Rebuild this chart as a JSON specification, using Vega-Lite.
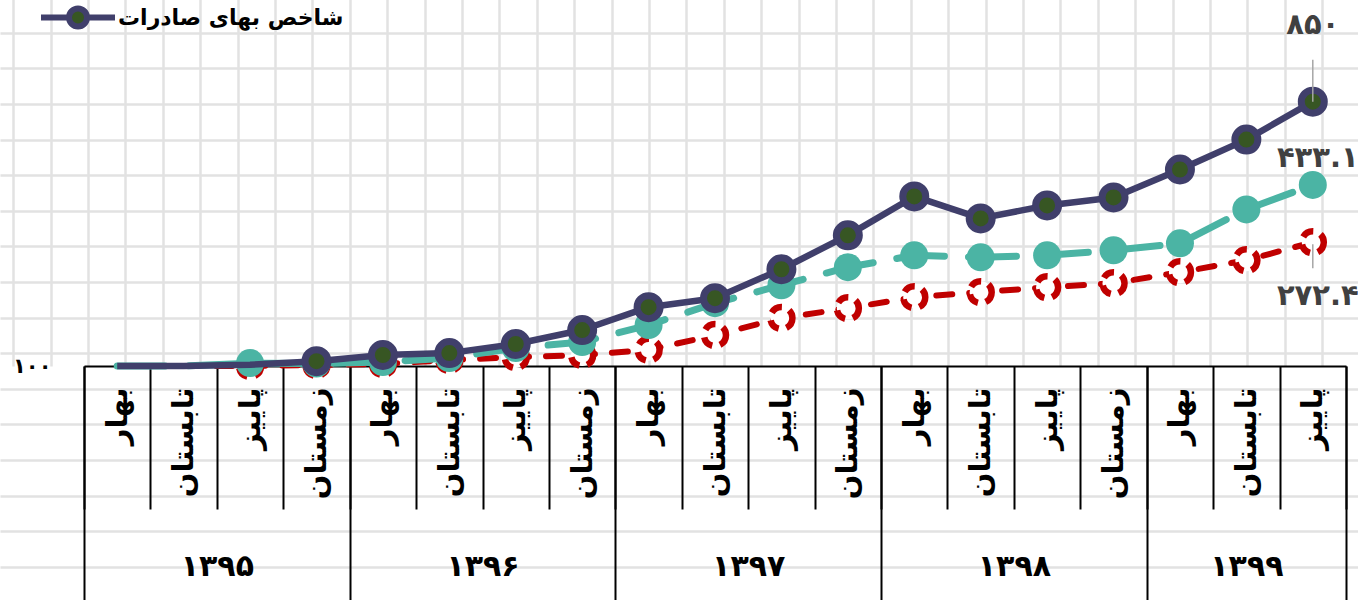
{
"$schema": "https://vega.github.io/schema/vega-lite/v6.json",
"width": 1262, "height": 366,
"autosize": {"type": "none"},
"padding": {"left": 84, "top": 0, "right": 12, "bottom": 234},
"background": "white",
"config": {"view": {"stroke": null}, "font": "DejaVu Sans"},
"data": {"values": [
{"q":"بهار ۱۳۹۵","series":"شاخص بهای صادرات","value":100},
{"q":"تابستان ۱۳۹۵","series":"شاخص بهای صادرات","value":100},
{"q":"پاییز ۱۳۹۵","series":"شاخص بهای صادرات","value":101},
{"q":"زمستان ۱۳۹۵","series":"شاخص بهای صادرات","value":104},
{"q":"بهار ۱۳۹۶","series":"شاخص بهای صادرات","value":109.3},
{"q":"تابستان ۱۳۹۶","series":"شاخص بهای صادرات","value":111},
{"q":"پاییز ۱۳۹۶","series":"شاخص بهای صادرات","value":119.5},
{"q":"زمستان ۱۳۹۶","series":"شاخص بهای صادرات","value":133.8},
{"q":"بهار ۱۳۹۷","series":"شاخص بهای صادرات","value":161},
{"q":"تابستان ۱۳۹۷","series":"شاخص بهای صادرات","value":173.2},
{"q":"پاییز ۱۳۹۷","series":"شاخص بهای صادرات","value":218.9},
{"q":"زمستان ۱۳۹۷","series":"شاخص بهای صادرات","value":288},
{"q":"بهار ۱۳۹۸","series":"شاخص بهای صادرات","value":394.6},
{"q":"تابستان ۱۳۹۸","series":"شاخص بهای صادرات","value":330.4},
{"q":"پاییز ۱۳۹۸","series":"شاخص بهای صادرات","value":367},
{"q":"زمستان ۱۳۹۸","series":"شاخص بهای صادرات","value":391.4},
{"q":"بهار ۱۳۹۹","series":"شاخص بهای صادرات","value":490.8},
{"q":"تابستان ۱۳۹۹","series":"شاخص بهای صادرات","value":625.3},
{"q":"پاییز ۱۳۹۹","series":"شاخص بهای صادرات","value":850,"label":"۸۵۰"},
{"q":"بهار ۱۳۹۵","series":"سری دوم","value":100},
{"q":"تابستان ۱۳۹۵","series":"سری دوم","value":100},
{"q":"پاییز ۱۳۹۵","series":"سری دوم","value":102.4},
{"q":"زمستان ۱۳۹۵","series":"سری دوم","value":102},
{"q":"بهار ۱۳۹۶","series":"سری دوم","value":103.3},
{"q":"تابستان ۱۳۹۶","series":"سری دوم","value":106.7},
{"q":"پاییز ۱۳۹۶","series":"سری دوم","value":115.7},
{"q":"زمستان ۱۳۹۶","series":"سری دوم","value":121.4},
{"q":"بهار ۱۳۹۷","series":"سری دوم","value":139.3},
{"q":"تابستان ۱۳۹۷","series":"سری دوم","value":166.3},
{"q":"پاییز ۱۳۹۷","series":"سری دوم","value":192.3},
{"q":"زمستان ۱۳۹۷","series":"سری دوم","value":222.5},
{"q":"بهار ۱۳۹۸","series":"سری دوم","value":245},
{"q":"تابستان ۱۳۹۸","series":"سری دوم","value":241},
{"q":"پاییز ۱۳۹۸","series":"سری دوم","value":245},
{"q":"زمستان ۱۳۹۸","series":"سری دوم","value":255.2},
{"q":"بهار ۱۳۹۹","series":"سری دوم","value":270},
{"q":"تابستان ۱۳۹۹","series":"سری دوم","value":355.3},
{"q":"پاییز ۱۳۹۹","series":"سری دوم","value":433.1,"label":"۴۳۳.۱"},
{"q":"بهار ۱۳۹۵","series":"سری سوم","value":100},
{"q":"تابستان ۱۳۹۵","series":"سری سوم","value":100},
{"q":"پاییز ۱۳۹۵","series":"سری سوم","value":100},
{"q":"زمستان ۱۳۹۵","series":"سری سوم","value":100.8},
{"q":"بهار ۱۳۹۶","series":"سری سوم","value":101.6},
{"q":"تابستان ۱۳۹۶","series":"سری سوم","value":105},
{"q":"پاییز ۱۳۹۶","series":"سری سوم","value":107.5},
{"q":"زمستان ۱۳۹۶","series":"سری سوم","value":109.3},
{"q":"بهار ۱۳۹۷","series":"سری سوم","value":114},
{"q":"تابستان ۱۳۹۷","series":"سری سوم","value":128.4},
{"q":"پاییز ۱۳۹۷","series":"سری سوم","value":147.4},
{"q":"زمستان ۱۳۹۷","series":"سری سوم","value":159.7},
{"q":"بهار ۱۳۹۸","series":"سری سوم","value":174.6},
{"q":"تابستان ۱۳۹۸","series":"سری سوم","value":181.8},
{"q":"پاییز ۱۳۹۸","series":"سری سوم","value":189.2},
{"q":"زمستان ۱۳۹۸","series":"سری سوم","value":195.5},
{"q":"بهار ۱۳۹۹","series":"سری سوم","value":213.6},
{"q":"تابستان ۱۳۹۹","series":"سری سوم","value":235.4},
{"q":"پاییز ۱۳۹۹","series":"سری سوم","value":272.4,"label":"۲۷۲.۴"}
]},
"layer": [
{
 "mark": {"type": "point", "opacity": 0},
 "encoding": {
  "x": {"field": "value", "type": "quantitative",
        "scale": {"domain": [-0.3556, 35.955], "range": [-84, 1274], "zero": false, "nice": false},
        "axis": {"orient": "bottom", "values": [0,1,2,3,4,5,6,7,8,9,10,11,12,13,14,15,16,17,18,19,20,21,22,23,24,25,26,27,28,29,30,31,32,33,34,35],
                 "grid": true, "gridColor": "#e2e2e2", "gridWidth": 2.5, "labels": false, "ticks": false, "domain": false, "title": null}},
  "y": {"field": "value", "type": "quantitative",
        "scale": {"domain": [-0.9185, 15.935], "range": [0, 600], "zero": false, "nice": false},
        "axis": {"orient": "left", "values": [0,1,2,3,4,5,6,7,8,9,10,11,12,13,14,15],
                 "grid": true, "gridColor": "#e2e2e2", "gridWidth": 2.5, "labels": false, "ticks": false, "domain": false, "title": null}}
 }
},
{
 "encoding": {
  "x": {"field": "q", "type": "ordinal", "sort": null, "bandPosition": 0.5,
        "scale": {"type": "band", "paddingInner": 0, "paddingOuter": 0},
        "axis": {"orient": "bottom", "title": null, "grid": false, "domain": true, "domainColor": "black", "domainWidth": 2,
                 "ticks": true, "tickColor": "black", "tickWidth": 2, "tickSize": 143, "tickBand": "extent",
                 "labelExpr": "datum.value ? split(datum.value, ' ')[0] : ''",
                 "labelAngle": 270, "labelAlign": "right", "labelBaseline": "middle", "labelPadding": -122,
                 "labelFontSize": 29, "labelFontWeight": "bold", "labelColor": "black", "labelOverlap": false, "labelBound": false, "labelFont": "DejaVu Sans"}},
  "y": {"field": "value", "type": "quantitative",
        "scale": {"type": "log", "domain": [100, 1936], "nice": false},
        "axis": {"orient": "left", "values": [100], "labelExpr": "'۱۰۰'", "ticks": false, "domain": false, "grid": false,
                 "labelPadding": 33, "labelFontSize": 21, "labelFontWeight": "bold", "labelColor": "black", "title": null, "labelFont": "DejaVu Sans"}}
 },
 "layer": [
  {"transform": [{"filter": "datum.series == 'سری سوم'"}],
   "mark": {"type": "line", "color": "#c00000", "strokeWidth": 6, "strokeDash": [16, 17], "strokeCap": "round"}},
  {"transform": [{"filter": "datum.series == 'سری سوم' && datum.q != 'بهار ۱۳۹۵' && datum.q != 'تابستان ۱۳۹۵'"}],
   "mark": {"type": "point", "filled": true, "fill": "white", "stroke": "#c00000", "strokeWidth": 6.5, "strokeDash": [12, 8], "size": 484, "opacity": 1}},
  {"transform": [{"filter": "datum.series == 'سری دوم'"}],
   "mark": {"type": "line", "color": "#4bb4a4", "strokeWidth": 7, "strokeDash": [48, 24], "strokeCap": "round"}},
  {"transform": [{"filter": "datum.series == 'سری دوم' && datum.q != 'بهار ۱۳۹۵' && datum.q != 'تابستان ۱۳۹۵'"}],
   "mark": {"type": "point", "filled": true, "fill": "#4bb4a4", "strokeWidth": 0, "size": 784, "opacity": 1}},
  {"transform": [{"filter": "datum.series == 'شاخص بهای صادرات'"}],
   "mark": {"type": "line", "strokeWidth": 6.5, "strokeJoin": "round"},
   "encoding": {"stroke": {"field": "series", "type": "nominal",
      "scale": {"domain": ["شاخص بهای صادرات"], "range": ["#403f6b"]},
      "legend": {"orient": "none", "legendX": -46, "legendY": -22.5, "title": null, "padding": 0,
        "symbolType": "M-1,0H-0.243M0.243,0H1M-0.243,0A0.243,0.243,0,1,1,0.243,0A0.243,0.243,0,1,1,-0.243,0Z",
        "symbolSize": 5476, "symbolStrokeWidth": 6, "symbolFillColor": "#375623", "symbolStrokeColor": "#403f6b",
        "labelFontSize": 22, "labelFontWeight": "bold", "labelColor": "black", "labelOffset": 0, "labelFont": "DejaVu Sans", "labelLimit": 0}}}},
  {"transform": [{"filter": "datum.series == 'شاخص بهای صادرات' && datum.q != 'بهار ۱۳۹۵' && datum.q != 'تابستان ۱۳۹۵' && datum.q != 'پاییز ۱۳۹۵'"}],
   "mark": {"type": "point", "filled": true, "fill": "#375623", "stroke": "#403f6b", "strokeWidth": 7, "size": 529, "opacity": 1}},
  {"transform": [{"filter": "datum.label && datum.series == 'شاخص بهای صادرات'"}],
   "mark": {"type": "rule", "color": "#a6a6a6", "strokeWidth": 1.5, "y2Offset": -42},
   "encoding": {"y2": {"field": "value"}}},
  {"transform": [{"filter": "datum.label && datum.series == 'سری سوم'"}],
   "mark": {"type": "rule", "color": "#a6a6a6", "strokeWidth": 1.5, "yOffset": 2, "y2Offset": 26},
   "encoding": {"y2": {"field": "value"}}},
  {"transform": [{"filter": "datum.label && datum.series == 'شاخص بهای صادرات'"}],
   "mark": {"type": "text", "dy": -77, "fontSize": 29, "fontWeight": "bold", "color": "#404040", "font": "DejaVu Sans"},
   "encoding": {"text": {"field": "label"}}},
  {"transform": [{"filter": "datum.label && datum.series == 'سری دوم'"}],
   "mark": {"type": "text", "dy": -27, "dx": 5, "fontSize": 29, "fontWeight": "bold", "color": "#404040", "font": "DejaVu Sans"},
   "encoding": {"text": {"field": "label"}}},
  {"transform": [{"filter": "datum.label && datum.series == 'سری سوم'"}],
   "mark": {"type": "text", "dy": 54, "dx": 5, "fontSize": 29, "fontWeight": "bold", "color": "#404040", "font": "DejaVu Sans"},
   "encoding": {"text": {"field": "label"}}}
 ]
},
{
 "mark": {"type": "point", "opacity": 0},
 "encoding": {
  "x": {"field": "q", "type": "ordinal", "sort": null,
        "scale": {"type": "band", "paddingInner": 0, "paddingOuter": 0},
        "axis": {"orient": "bottom", "title": null, "grid": false, "domain": false,
                 "values": ["بهار ۱۳۹۵", "زمستان ۱۳۹۵", "زمستان ۱۳۹۶", "زمستان ۱۳۹۷", "زمستان ۱۳۹۸", "پاییز ۱۳۹۹"],
                 "ticks": true, "tickColor": "black", "tickWidth": 2, "tickSize": 234, "tickBand": "extent",
                 "tickOpacity": {"condition": {"test": "datum.value == 'بهار ۱۳۹۵'", "value": 0}, "value": 1},
                 "labelExpr": "datum.value && datum.value != 'بهار ۱۳۹۵' ? split(datum.value, ' ')[1] : ''",
                 "labelAngle": 0, "labelAlign": "center", "labelBaseline": "top", "labelPadding": -49,
                 "labelOffset": {"condition": {"test": "datum.value == 'پاییز ۱۳۹۹'", "value": -66.4}, "value": -99.6},
                 "labelFontSize": 30, "labelFontWeight": "bold", "labelColor": "black", "labelOverlap": false, "labelBound": false, "labelFont": "DejaVu Sans"}}
 }
}
],
"resolve": {"scale": {"x": "independent", "y": "independent"}}
}
